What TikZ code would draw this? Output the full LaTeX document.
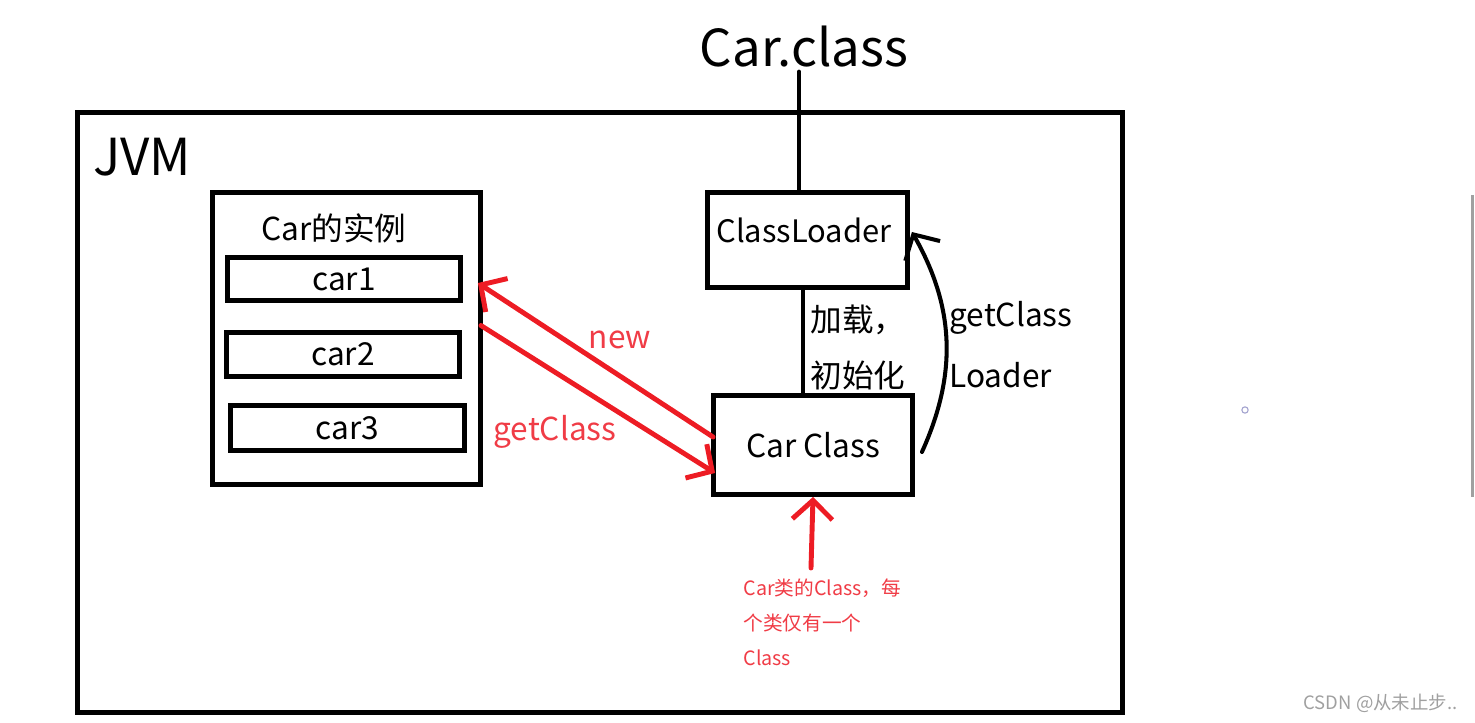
\documentclass[tikz,border=0pt]{standalone}
\usepackage{fontspec}
\setmainfont{Noto Sans CJK SC}
\usepackage{tikz}
\usetikzlibrary{arrows.meta}
\definecolor{edge_red}{RGB}{237,28,36}
\definecolor{text_red}{RGB}{240,60,70}
\definecolor{mark_gray}{RGB}{160,160,160}
\definecolor{dot_blue}{RGB}{160,160,205}

\begin{document}
\begin{tikzpicture}[x=0.02cm,y=-0.02cm,line width=2.8pt,line cap=round,>={Straight Barb[length=0.38cm,width=0.8cm]}]
    \tikzstyle{box}=[draw=black, rectangle, inner sep=0pt, fill=none, text=black, font=\fontsize{18}{22}\selectfont]
    \tikzstyle{lbl}=[inner sep=0pt, text=black, font=\fontsize{18}{22}\selectfont]
    \tikzstyle{big}=[inner sep=1pt, text=black, font=\fontsize{29}{34}\selectfont]
    \tikzstyle{rlbl}=[style=lbl, text=text_red]

    \useasboundingbox (0,0) rectangle (1475,723);

    \node[box, minimum width=20.9cm, minimum height=12cm] (jvm) at (600,412.5) {};
    \node[big] (jvmname) at (142,157) {JVM};
    \node[big] (cls) at (804,47) {Car.class};

    \node[box, minimum width=5.36cm, minimum height=5.84cm] (inst) at (346.5,338.5) {};
    \node[lbl] (insttitle) at (334,228) {Car的实例};
    \node[box, minimum width=4.66cm, minimum height=0.86cm] (car1) at (344,279) {car1};
    \node[box, minimum width=4.66cm, minimum height=0.88cm] (car2) at (343,354.5) {car2};
    \node[box, minimum width=4.68cm, minimum height=0.9cm] (car3) at (347.5,428) {car3};

    \node[box, minimum width=4.0cm, minimum height=1.9cm] (loader) at (807.5,240) {};
    \node[lbl, font=\fontsize{17.6}{22}\selectfont] (loadertext) at (804,230) {ClassLoader};
    \node[box, minimum width=3.98cm, minimum height=1.98cm] (carclass) at (813,445) {Car Class};

    \node[lbl, anchor=west] (load) at (808,320) {加载，};
    \node[lbl, anchor=west] (init) at (808,375) {初始化};
    \node[lbl, anchor=west] (gcl1) at (947,318) {getClass};
    \node[lbl, anchor=west] (gcl2) at (947,375) {Loader};

    \node[rlbl] (newlbl) at (620,340) {new};
    \node[rlbl] (getlbl) at (555,432) {getClass};
    \node[inner sep=0pt, anchor=north west, align=left, text=text_red,
          font=\fontsize{11.2}{20}\selectfont] (note) at (741,576)
          {Car类的Class，每\\个类仅有一个\\Class};
    \coordinate (notetop) at (811,568);

    \coordinate (clsfoot) at (799,72);
    \coordinate (loadfoot) at (803,290);

    \node[circle, draw=dot_blue, line width=0.6pt, inner sep=0pt, minimum size=6\pgflinewidth] (dot) at (1245,410) {};
    \node[inner sep=0pt, anchor=east, text=mark_gray, font=\fontsize{10.5}{12}\selectfont] (mark) at (1460,703) {CSDN @从未止步..};
    \draw[mark_gray, line width=1.7pt, line cap=butt] (1472,195) -- (1472,497);

    \path
     (clsfoot) edge (clsfoot |- loader.north)
     (loadfoot) edge (loadfoot |- carclass.north)
     ([shift={(7,7)}]carclass.east) edge[->, line width=2.3pt, bend right=27] ([shift={(2,-8)}]loader.east)
     ([shift={(2,-8)}]carclass.west) edge[edge_red, ->] ([shift={(15,4)}]car1.east)
     ([shift={(-2,-13)}]inst.east) edge[edge_red, ->] ([shift={(4,28)}]carclass.west)
     (notetop) edge[edge_red, ->] (carclass.south)
     ;
\end{tikzpicture}
\end{document}
